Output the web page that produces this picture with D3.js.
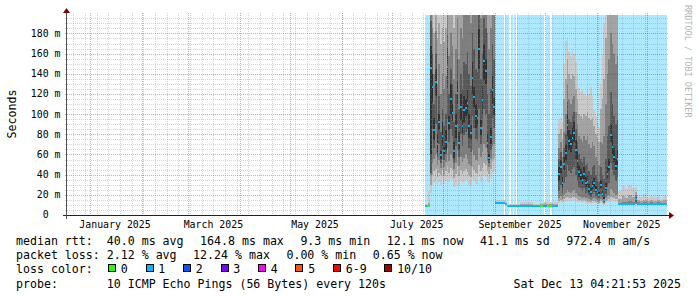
<!DOCTYPE html>
<html lang="en">
<head>
<meta charset="UTF-8">
<title>Smokeping - last 360 days</title>
<script src="https://cdn.jsdelivr.net/npm/d3@7"></script>
<style>
    body { margin: 0; background: #ffffff; }
    svg text { font-family: "DejaVu Sans Mono", monospace; white-space: pre; }
</style>
</head>
<body>
<script>

    // time window of the graph (360 days up to the print time)
    var startTime = "2024-12-18T04:21:53Z";
    var endTime = "2025-12-13T04:21:53Z";
    var yMax = 198.3;

    // one entry per consolidated sample, runs until the next date
    var dates = [
        "2025-07-21", "2025-07-22", "2025-07-23",
        "2025-07-24", "2025-07-25", "2025-07-26", "2025-07-27", "2025-07-28", "2025-07-29", "2025-07-30", "2025-07-31",
        "2025-08-01", "2025-08-02", "2025-08-03", "2025-08-04", "2025-08-05", "2025-08-06", "2025-08-07", "2025-08-08",
        "2025-08-09", "2025-08-10", "2025-08-11", "2025-08-12", "2025-08-13", "2025-08-14", "2025-08-15", "2025-08-16",
        "2025-08-17", "2025-08-18", "2025-08-19", "2025-08-20", "2025-08-21", "2025-08-22", "2025-08-23", "2025-08-24",
        "2025-08-25", "2025-08-26", "2025-08-27", "2025-08-28", "2025-08-29", "2025-08-30", "2025-08-31",
        "2025-09-01", "2025-09-07", "2025-09-08", "2025-09-09", "2025-09-16", "2025-09-24", "2025-09-28", "2025-09-30",
        "2025-10-02", "2025-10-05",
        "2025-10-09", "2025-10-10", "2025-10-11", "2025-10-12", "2025-10-13", "2025-10-14", "2025-10-15", "2025-10-16",
        "2025-10-17", "2025-10-18", "2025-10-19", "2025-10-20", "2025-10-21", "2025-10-22", "2025-10-23", "2025-10-24",
        "2025-10-25", "2025-10-26", "2025-10-27", "2025-10-28", "2025-10-29", "2025-10-30", "2025-10-31", "2025-11-01",
        "2025-11-02", "2025-11-03", "2025-11-04", "2025-11-05", "2025-11-06", "2025-11-07", "2025-11-08", "2025-11-09",
        "2025-11-10", "2025-11-11", "2025-11-12", "2025-11-13",
        "2025-11-14", "2025-11-16", "2025-11-18", "2025-11-20", "2025-11-22", "2025-11-24", "2025-11-25", "2025-11-27",
        "2025-11-29", "2025-12-01", "2025-12-03", "2025-12-05", "2025-12-07", "2025-12-09", "2025-12-11"
    ];

    // median rtt in ms
    var median = [
        9.2, 9.0, 9.1,
        146, 127, 84, 132, 70, 92, 59, 78,
        63, 72, 147, 91, 115, 101, 63, 88,
        121, 71, 107, 88, 104, 106, 111, 88,
        81, 136, 117, 98, 96, 165, 86, 114,
        153, 143, 71, 57, 77, 124, 107,
        11.6, 10.6, 8.8, 8.8, 8.9, 8.9, 8.9, 9.0,
        8.9, 9.0,
        41, 48, 32, 51, 61, 89, 73, 70,
        76, 81, 64, 54, 43, 40, 35, 41,
        32, 33, 26, 23, 29, 32, 25, 23,
        20, 30, 21, 15, 27, 41, 48, 79,
        67, 58, 49, 56,
        10.6, 10.7, 10.6, 10.8, 10.7, 15.5, 10.8, 10.6,
        10.7, 10.6, 10.7, 10.6, 10.7, 10.6, 10.7
    ];

    // lost pings out of 10 (colours the median)
    var loss = [
        1, 0, 0,
        1, 1, 1, 1, 1, 1, 1, 1,
        1, 1, 1, 1, 1, 1, 1, 1,
        1, 1, 1, 1, 1, 1, 1, 1,
        1, 1, 1, 1, 1, 1, 1, 1,
        1, 1, 1, 1, 1, 1, 1,
        1, 1, 0, 1, 1, 1, 0, 1,
        0, 1,
        1, 1, 1, 1, 1, 1, 1, 1,
        1, 1, 1, 1, 1, 1, 1, 1,
        1, 1, 1, 1, 1, 1, 1, 1,
        1, 1, 1, 1, 1, 1, 1, 1,
        1, 1, 1, 1,
        1, 1, 1, 1, 1, 1, 1, 1,
        1, 1, 1, 1, 1, 1, 1
    ];

    // the 10 sorted ping times of each sample (ms), they make the smoke
    var pings = [
        [8.6, 8.8, 8.9, 9.0, 9.1, 9.3, 9.4, 9.6, 9.9, 10.5],
        [8.5, 8.7, 8.8, 8.9, 9.0, 9.1, 9.2, 9.4, 9.7, 10.3],
        [8.6, 8.7, 8.8, 8.9, 9.0, 9.2, 9.4, 9.8, 12, 24],
        [22, 30, 42, 60, 40, 168, 192, 215, 250, 320],
        [30, 40, 52, 85, 112, 140, 160, 185, 215, 280],
        [32, 44, 56, 66, 74, 96, 110, 140, 180, 240],
        [35, 46, 60, 90, 118, 145, 160, 182, 210, 270],
        [29, 38, 50, 58, 62, 80, 95, 130, 175, 230],
        [33, 42, 55, 70, 84, 100, 118, 150, 190, 250],
        [30, 40, 47, 52, 56, 63, 82, 120, 170, 225],
        [36, 45, 55, 64, 68, 92, 105, 140, 185, 240],
        [31, 39, 48, 55, 60, 67, 88, 125, 172, 230],
        [34, 44, 53, 60, 64, 84, 100, 138, 185, 245],
        [38, 50, 66, 95, 126, 166, 178, 200, 235, 300],
        [33, 42, 54, 72, 84, 98, 120, 158, 200, 260],
        [36, 47, 60, 85, 100, 130, 145, 180, 220, 280],
        [35, 45, 57, 78, 93, 110, 130, 168, 210, 270],
        [28, 37, 46, 53, 57, 72, 92, 135, 185, 250],
        [30, 41, 52, 68, 76, 100, 120, 165, 210, 270],
        [37, 49, 63, 90, 110, 132, 155, 195, 235, 300],
        [29, 39, 49, 58, 64, 82, 105, 155, 205, 265],
        [34, 45, 58, 80, 94, 120, 140, 185, 230, 290],
        [31, 41, 53, 68, 81, 95, 125, 175, 225, 285],
        [33, 44, 57, 79, 92, 118, 152, 205, 260, 330],
        [35, 46, 60, 82, 98, 115, 150, 210, 260, 340],
        [32, 43, 56, 84, 100, 124, 162, 215, 265, 345],
        [30, 40, 51, 66, 76, 100, 140, 200, 250, 330],
        [29, 38, 49, 62, 74, 89, 128, 190, 245, 320],
        [36, 48, 64, 98, 120, 152, 180, 230, 285, 360],
        [34, 45, 59, 86, 107, 127, 165, 220, 275, 350],
        [31, 42, 55, 75, 86, 110, 145, 205, 260, 340],
        [30, 41, 54, 73, 88, 104, 142, 200, 255, 335],
        [38, 50, 66, 105, 145, 184, 205, 245, 300, 380],
        [33, 44, 58, 70, 79, 94, 135, 195, 250, 330],
        [35, 47, 62, 88, 100, 128, 160, 218, 270, 350],
        [40, 52, 70, 105, 134, 170, 195, 238, 290, 370],
        [38, 50, 66, 100, 130, 155, 185, 230, 285, 360],
        [34, 44, 54, 62, 67, 80, 120, 180, 240, 320],
        [32, 41, 48, 52, 55, 60, 100, 165, 225, 300],
        [36, 46, 56, 64, 70, 86, 125, 185, 245, 320],
        [42, 54, 68, 96, 110, 138, 170, 225, 280, 350],
        [44, 56, 70, 86, 99, 116, 155, 210, 265, 340],
        [10.5, 10.8, 11.0, 11.2, 11.4, 11.8, 12.1, 12.5, 13.2, 14.5],
        [9.9, 10.1, 10.3, 10.4, 10.5, 10.7, 10.9, 11.3, 12.0, 13.2],
        [8.2, 8.4, 8.5, 8.6, 8.7, 8.9, 9.0, 9.2, 9.6, 10.4],
        [8.2, 8.4, 8.5, 8.6, 8.7, 8.9, 9.0, 9.2, 9.7, 10.6],
        [8.3, 8.5, 8.6, 8.7, 8.8, 9.0, 9.2, 9.7, 10.9, 13.0],
        [8.3, 8.4, 8.5, 8.6, 8.8, 9.0, 9.1, 9.4, 9.9, 10.8],
        [8.3, 8.5, 8.6, 8.7, 8.8, 9.0, 9.2, 9.6, 10.5, 12.0],
        [8.4, 8.5, 8.6, 8.8, 8.9, 9.1, 9.3, 9.7, 10.6, 12.4],
        [8.3, 8.5, 8.6, 8.7, 8.8, 9.0, 9.2, 9.6, 10.7, 12.6],
        [8.4, 8.5, 8.6, 8.8, 8.9, 9.1, 9.3, 9.8, 10.9, 12.8],
        [12, 14, 17, 24, 34, 48, 56, 66, 80, 94],
        [13, 15, 19, 30, 42, 55, 62, 72, 85, 96],
        [12, 14, 16, 22, 28, 38, 46, 58, 75, 92],
        [13, 16, 20, 32, 45, 58, 66, 82, 115, 150],
        [14, 17, 22, 38, 54, 70, 80, 100, 135, 173],
        [15, 18, 25, 50, 78, 100, 112, 130, 155, 175],
        [14, 17, 23, 44, 64, 84, 95, 115, 140, 162],
        [14, 17, 22, 42, 62, 80, 92, 110, 135, 158],
        [14, 18, 24, 46, 68, 86, 98, 115, 140, 163],
        [15, 18, 25, 48, 72, 92, 102, 118, 138, 160],
        [14, 17, 22, 40, 56, 74, 85, 102, 125, 152],
        [13, 16, 20, 34, 47, 62, 72, 90, 115, 140],
        [13, 15, 19, 28, 38, 50, 60, 78, 100, 126],
        [13, 15, 18, 27, 35, 46, 56, 75, 98, 122],
        [12, 14, 17, 24, 31, 41, 52, 72, 95, 124],
        [13, 15, 18, 27, 36, 48, 58, 78, 100, 120],
        [12, 14, 17, 22, 28, 38, 50, 74, 98, 118],
        [12, 14, 17, 23, 29, 39, 52, 78, 102, 125],
        [12, 13, 16, 20, 23, 31, 44, 70, 96, 120],
        [11, 13, 15, 18, 21, 27, 40, 66, 94, 127],
        [12, 14, 16, 21, 26, 34, 48, 72, 96, 118],
        [12, 14, 17, 23, 28, 37, 50, 68, 88, 104],
        [12, 13, 16, 19, 23, 29, 40, 58, 80, 98],
        [11, 13, 15, 18, 21, 26, 36, 54, 76, 92],
        [11, 12, 14, 17, 19, 23, 33, 50, 72, 87],
        [12, 14, 16, 21, 27, 35, 48, 72, 105, 130],
        [11, 13, 15, 18, 20, 24, 40, 70, 115, 160],
        [10, 11, 12, 13, 14, 18, 36, 78, 135, 190],
        [12, 14, 17, 21, 25, 32, 56, 110, 175, 230],
        [13, 15, 19, 28, 37, 48, 78, 140, 205, 260],
        [13, 16, 20, 32, 44, 56, 88, 155, 220, 280],
        [15, 18, 26, 52, 72, 90, 122, 180, 240, 300],
        [14, 17, 24, 45, 60, 78, 110, 170, 230, 290],
        [14, 17, 22, 40, 53, 66, 98, 160, 222, 285],
        [13, 16, 20, 34, 45, 56, 90, 150, 215, 280],
        [13, 16, 21, 38, 50, 64, 94, 158, 220, 285],
        [9.8, 10.0, 10.2, 10.4, 10.5, 10.8, 11.2, 12.0, 16, 24],
        [9.9, 10.1, 10.3, 10.4, 10.6, 10.9, 11.5, 13.0, 19, 29],
        [9.8, 10.0, 10.2, 10.4, 10.5, 10.8, 11.3, 12.5, 17, 26],
        [9.9, 10.1, 10.3, 10.5, 10.7, 11.0, 11.8, 14.0, 20, 30],
        [9.8, 10.0, 10.2, 10.4, 10.6, 10.9, 11.4, 13.0, 18, 27],
        [10.2, 10.6, 11.2, 12.5, 14.5, 16.5, 18, 20, 23, 28],
        [9.9, 10.1, 10.3, 10.5, 10.7, 11.0, 11.6, 12.8, 15, 19],
        [9.8, 10.0, 10.2, 10.4, 10.5, 10.8, 11.2, 12.2, 14, 18],
        [9.9, 10.1, 10.3, 10.4, 10.6, 10.9, 11.4, 12.6, 15, 21],
        [9.8, 10.0, 10.2, 10.4, 10.5, 10.8, 11.1, 11.9, 13.5, 17],
        [9.9, 10.1, 10.3, 10.5, 10.6, 10.9, 11.3, 12.4, 14.5, 19],
        [9.8, 10.0, 10.2, 10.4, 10.5, 10.8, 11.2, 12.0, 14, 18],
        [9.9, 10.1, 10.3, 10.4, 10.6, 10.9, 11.4, 12.5, 15, 20],
        [9.8, 10.0, 10.2, 10.4, 10.5, 10.8, 11.1, 11.8, 13.5, 16],
        [9.9, 10.1, 10.3, 10.5, 10.6, 10.9, 11.3, 12.3, 14.5, 19]
    ];

    // spans with no data (background left white)
    var gapStart = ["2025-09-06T02:00Z", "2025-09-09T09:00Z", "2025-09-11T23:00Z", "2025-09-13T14:00Z", "2025-09-30T09:00Z", "2025-10-03T23:30Z"];
    var gapEnd = ["2025-09-06T23:30Z", "2025-09-10T07:00Z", "2025-09-12T16:00Z", "2025-09-14T04:00Z", "2025-10-01T21:00Z", "2025-10-05T04:00Z"];

    var yTicks = [0, 20, 40, 60, 80, 100, 120, 140, 160, 180];
    var yTickLabels = ["0  ", "20 m", "40 m", "60 m", "80 m", "100 m", "120 m", "140 m", "160 m", "180 m"];
    var xLabelMonths = ["2025-01-01", "2025-03-01", "2025-05-01", "2025-07-01", "2025-09-01", "2025-11-01"];
    var xLabelText = ["January 2025", "March 2025", "May 2025", "July 2025", "September 2025", "November 2025"];

    var lossLabels = ["0", "1", "2", "3", "4", "5", "6-9", "10/10"];
    var lossColors = ["#26ff00", "#00b8ff", "#0059ff", "#7e00ff", "#ff00ff", "#ff5500", "#ff0000", "#a00000"];
    var smokeColors = ["#cacaca", "#a4a4a4", "#7e7e7e", "#585858", "#323232"];

    var medianStats = ["40.0 ms avg", "164.8 ms max", "9.3 ms min", "12.1 ms now", "41.1 ms sd", "972.4 m am/s"];
    var lossStats = ["2.12 % avg", "12.24 % max", "0.00 % min", "0.65 % now"];
    var probeText = "10 ICMP Echo Pings (56 Bytes) every 120s";
    var printTime = "Sat Dec 13 04:21:53 2025";

    var width = 697;
    var height = 297;
    var plotL = 67, plotR = 667, plotT = 15, plotB = 215;

    var svg = d3.select("body").append("svg")
        .attr("width", width)
        .attr("height", height);

    var x = d3.scaleUtc()
        .domain([d3.isoParse(startTime), d3.isoParse(endTime)])
        .range([plotL, plotR]);

    var y = d3.scaleLinear()
        .domain([0, yMax])
        .range([plotB, plotT]);

    function px(v) {
        return Math.round(v) + 0.5;
    }

    svg.append("clipPath").attr("id", "plotClip")
        .append("rect")
        .attr("x", plotL).attr("y", plotT)
        .attr("width", plotR - plotL).attr("height", plotB - plotT);

    var samples = dates.map(function (d, i) {
        return {
            t0: d3.isoParse(d),
            t1: i < dates.length - 1 ? d3.isoParse(dates[i + 1]) : d3.isoParse(endTime),
            med: median[i],
            loss: loss[i],
            p: pings[i].slice().sort(d3.ascending)
        };
    });

    var plotArea = svg.append("g").attr("clip-path", "url(#plotClip)");

    // loss background
    var bgColor = d3.interpolateRgb("#ffffff", lossColors[1])(0.32);
    plotArea.selectAll("rect.bg")
        .data(samples)
        .enter().append("rect")
        .attr("class", "bg")
        .attr("x", function (d) { return x(d.t0); })
        .attr("width", function (d) { return x(d.t1) - x(d.t0); })
        .attr("y", plotT)
        .attr("height", plotB - plotT)
        .attr("fill", bgColor)
        .attr("shape-rendering", "crispEdges");

    plotArea.selectAll("rect.gap")
        .data(gapStart)
        .enter().append("rect")
        .attr("class", "gap")
        .attr("x", function (d) { return x(d3.isoParse(d)); })
        .attr("width", function (d, i) { return x(d3.isoParse(gapEnd[i])) - x(d3.isoParse(d)); })
        .attr("y", plotT)
        .attr("height", plotB - plotT)
        .attr("fill", "#ffffff")
        .attr("shape-rendering", "crispEdges");

    // smoke: band i spans ping i .. ping 10-i, darker towards the middle
    smokeColors.forEach(function (col, b) {
        plotArea.selectAll("rect.smoke" + b)
            .data(samples)
            .enter().append("rect")
            .attr("class", "smoke" + b)
            .attr("x", function (d) { return x(d.t0); })
            .attr("width", function (d) { return x(d.t1) - x(d.t0); })
            .attr("y", function (d) { return y(d.p[9 - b]); })
            .attr("height", function (d) { return y(d.p[b]) - y(d.p[9 - b]); })
            .attr("fill", col)
            .attr("shape-rendering", "crispEdges");
    });

    // median, 2px mark coloured by loss
    plotArea.selectAll("rect.med")
        .data(samples)
        .enter().append("rect")
        .attr("class", "med")
        .attr("x", function (d) { return x(d.t0); })
        .attr("width", function (d) { return x(d.t1) - x(d.t0); })
        .attr("y", function (d) { return y(d.med) - 1; })
        .attr("height", 2)
        .attr("fill", function (d) { return lossColors[d.loss]; })
        .attr("shape-rendering", "crispEdges");

    // grid on top
    var minorCol = "rgba(140,140,140,0.38)";
    var majorCol = "rgba(200,32,32,0.42)";
    var grid = svg.append("g").attr("fill", "none").attr("stroke-width", 1);

    var minorY = d3.range(5, yMax, 5).filter(function (v) { return v % 20 !== 0; });
    var majorY = yTicks.filter(function (v) { return v > 0; });

    grid.selectAll("line.hmin").data(minorY).enter().append("line")
        .attr("x1", plotL - 2).attr("x2", plotR + 2)
        .attr("y1", function (d) { return px(y(d)); })
        .attr("y2", function (d) { return px(y(d)); })
        .attr("stroke", minorCol)
        .attr("stroke-dasharray", "1,1");

    var weeks = d3.utcSunday.range(x.domain()[0], x.domain()[1]);
    var months = d3.utcMonth.range(d3.utcMonth.ceil(x.domain()[0]), x.domain()[1]);

    grid.selectAll("line.vmin").data(weeks).enter().append("line")
        .attr("x1", function (d) { return px(x(d)); })
        .attr("x2", function (d) { return px(x(d)); })
        .attr("y1", plotT - 2).attr("y2", plotB + 2)
        .attr("stroke", minorCol)
        .attr("stroke-dasharray", "1,1");

    grid.selectAll("line.hmaj").data(majorY).enter().append("line")
        .attr("x1", plotL - 2).attr("x2", plotR + 2)
        .attr("y1", function (d) { return px(y(d)); })
        .attr("y2", function (d) { return px(y(d)); })
        .attr("stroke", majorCol)
        .attr("stroke-dasharray", "1,1");

    grid.selectAll("line.vmaj").data(months).enter().append("line")
        .attr("x1", function (d) { return px(x(d)); })
        .attr("x2", function (d) { return px(x(d)); })
        .attr("y1", plotT - 2).attr("y2", plotB + 2)
        .attr("stroke", majorCol)
        .attr("stroke-dasharray", "1,1");

    // axes and arrows
    svg.append("line")
        .attr("x1", plotL - 4).attr("x2", plotR + 4)
        .attr("y1", plotB + 0.5).attr("y2", plotB + 0.5)
        .attr("stroke", "#202020");
    svg.append("line")
        .attr("x1", plotL - 0.5).attr("x2", plotL - 0.5)
        .attr("y1", plotB + 4).attr("y2", plotT - 4)
        .attr("stroke", "#505050");
    svg.append("polygon")
        .attr("points", [[plotR + 2, plotB - 3], [plotR + 2, plotB + 4], [plotR + 7, plotB + 0.5]].join(" "))
        .attr("fill", "#7f0000");
    svg.append("polygon")
        .attr("points", [[plotL - 4, plotT - 2], [plotL + 3, plotT - 2], [plotL - 0.5, plotT - 7]].join(" "))
        .attr("fill", "#7f0000");

    // tick labels
    var axisFont = 9.9;
    svg.append("g").selectAll("text")
        .data(yTicks)
        .enter().append("text")
        .attr("x", 60.5)
        .attr("y", function (d) { return y(d) + 3.4; })
        .attr("text-anchor", "end")
        .attr("font-size", axisFont + "px")
        .text(function (d, i) { return yTickLabels[i]; });

    svg.append("g").selectAll("text")
        .data(xLabelMonths)
        .enter().append("text")
        .attr("x", function (d) { return x(d3.utcDay.offset(d3.isoParse(d), 15)); })
        .attr("y", 227.5)
        .attr("text-anchor", "middle")
        .attr("font-size", axisFont + "px")
        .text(function (d, i) { return xLabelText[i]; });

    svg.append("text")
        .attr("transform", "translate(15.5,114) rotate(-90)")
        .attr("text-anchor", "middle")
        .attr("font-size", "11.6px")
        .text("Seconds");

    svg.append("text")
        .attr("transform", "translate(684.5,5) rotate(90)")
        .attr("font-size", "8.5px")
        .attr("fill", "#b4b4b4")
        .text("RRDTOOL / TOBI OETIKER");

    // legend
    var fontSize = 11.6;
    var charW = 0.602 * fontSize;
    var col0 = 16;
    var col1 = col0 + 13 * charW;
    var sep = 16.5;
    var legend = svg.append("g").attr("font-size", fontSize + "px").attr("fill", "#000");

    function statRow(baseline, title, items) {
        legend.append("text").attr("x", col0).attr("y", baseline).text(title);
        var pos = col1;
        items.forEach(function (s) {
            legend.append("text").attr("x", pos).attr("y", baseline).text(s);
            pos += s.length * charW + sep;
        });
    }

    statRow(245, "median rtt:", medianStats);
    statRow(259.2, "packet loss:", lossStats);

    legend.append("text").attr("x", col0).attr("y", 273.4).text("loss color:");
    var itemX = col1;
    lossLabels.forEach(function (lab, i) {
        legend.append("rect")
            .attr("x", Math.round(itemX + 1.3) + 0.5)
            .attr("y", 264.5)
            .attr("width", 7)
            .attr("height", 7)
            .attr("fill", lossColors[i])
            .attr("stroke", "#000");
        legend.append("text").attr("x", itemX + 14).attr("y", 273.4).text(lab);
        itemX += 14 + lab.length * charW + sep;
    });

    legend.append("text").attr("x", col0).attr("y", 287.6).text("probe:");
    legend.append("text").attr("x", col1).attr("y", 287.6).text(probeText);
    legend.append("text").attr("x", 681).attr("y", 287.6).attr("text-anchor", "end").text(printTime);

</script>
</body>
</html>
